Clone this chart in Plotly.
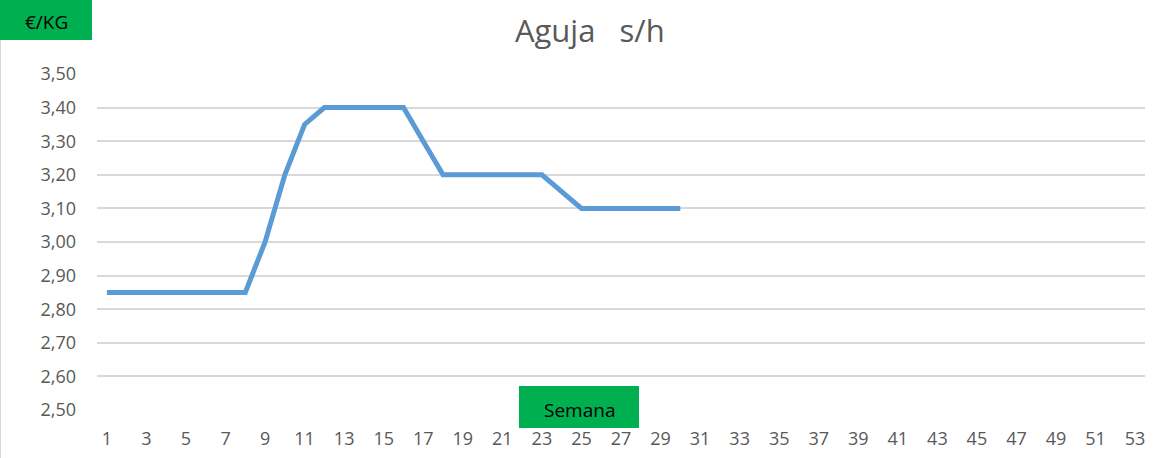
import plotly.graph_objects as go

weeks = list(range(1, 31))
prices = [2.85, 2.85, 2.85, 2.85, 2.85, 2.85, 2.85, 2.85, 3.00, 3.20,
          3.35, 3.40, 3.40, 3.40, 3.40, 3.40, 3.30, 3.20, 3.20, 3.20,
          3.20, 3.20, 3.20, 3.15, 3.10, 3.10, 3.10, 3.10, 3.10, 3.10]
x_ticks = list(range(1, 54, 2))
y_ticks = [2.5, 2.6, 2.7, 2.8, 2.9, 3.0, 3.1, 3.2, 3.3, 3.4, 3.5]

W, H = 1168, 458
L, R, T, B = 97, 23, 74, 48
pw, ph = W - L - R, H - T - B

def px(x):
    return (x - L) / pw

def py(y):
    return (H - B - y) / ph

fig = go.Figure()
fig.add_trace(go.Scatter(x=weeks, y=prices, mode="lines",
                         line=dict(color="#5B9BD5", width=5),
                         hoverinfo="x+y", showlegend=False))

font = "Open Sans, Liberation Sans, sans-serif"
fig.update_layout(
    width=W, height=H,
    margin=dict(l=L, r=R, t=T, b=B),
    paper_bgcolor="white", plot_bgcolor="white",
    separators=",.",
    font=dict(family=font, color="#595959", size=18),
    title=dict(text="Aguja   s/h", x=0.505, xanchor="center", y=1 - 31 / H, yanchor="middle",
               font=dict(size=31, color="#595959", family=font)),
    xaxis=dict(range=[0.5, 53.5], tickvals=x_ticks, ticktext=[str(v) for v in x_ticks],
               showgrid=False, zeroline=False, showline=False, ticks="", automargin=False,
               ticklabelstandoff=16, tickfont=dict(size=18, color="#595959")),
    yaxis=dict(range=[2.5, 3.5], tickvals=y_ticks, tickformat=".2f", automargin=False,
               showgrid=True, gridcolor="#D9D9D9", gridwidth=1.5, zeroline=False,
               showline=False, ticks="", ticklabelstandoff=20,
               tickfont=dict(size=18, color="#595959")),
    shapes=[
        dict(type="rect", xref="paper", yref="paper", x0=px(0), x1=px(92), y0=py(40), y1=py(0),
             fillcolor="#00B050", line=dict(width=0), layer="above"),
        dict(type="rect", xref="paper", yref="paper", x0=px(519), x1=px(639), y0=py(428), y1=py(386),
             fillcolor="#00B050", line=dict(width=0), layer="above"),
        dict(type="line", xref="paper", yref="paper", x0=px(0.5), x1=px(0.5), y0=py(458), y1=py(40),
             line=dict(color="#D9D9D9", width=1)),
    ],
    annotations=[
        dict(text="€/KG", xref="paper", yref="paper", x=px(46), y=py(22), showarrow=False,
             xanchor="center", yanchor="middle", font=dict(size=19, color="black", family=font)),
        dict(text="Semana", xref="paper", yref="paper", x=px(579), y=py(410), showarrow=False,
             xanchor="center", yanchor="middle", font=dict(size=19, color="black", family=font)),
    ],
)

fig.write_html("out.html", config={"displayModeBar": False},
               post_script="document.body.style.margin='0';document.body.style.padding='0';")
